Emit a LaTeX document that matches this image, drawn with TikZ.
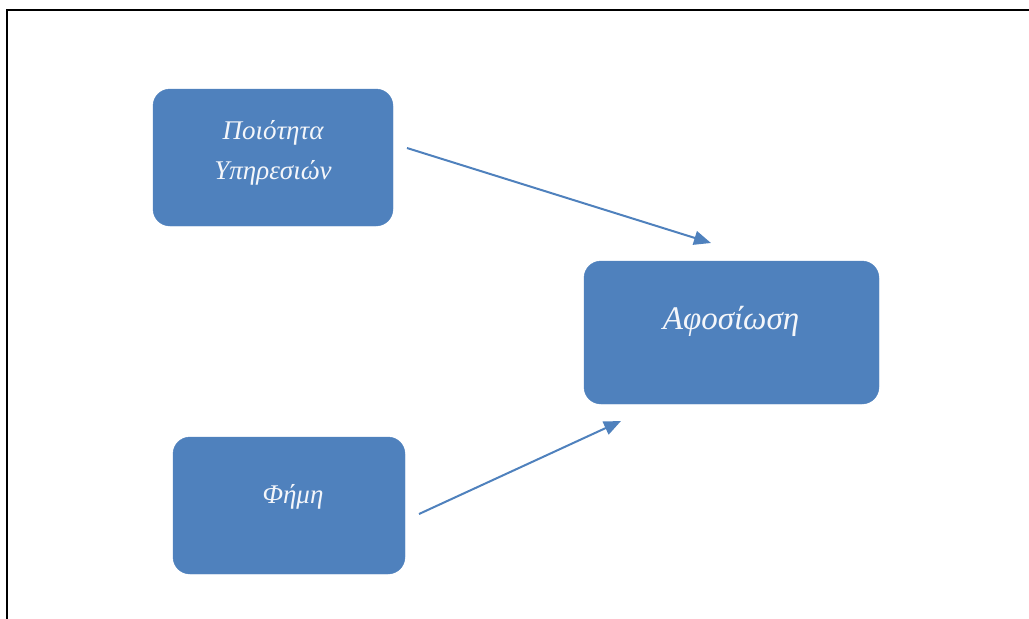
\documentclass[tikz,border=0pt]{standalone}
\usepackage{fontspec}
\setmainfont{Liberation Serif}
\usetikzlibrary{arrows.meta}
\definecolor{boxblue}{HTML}{4F81BD}
\definecolor{txtwhite}{HTML}{F4F6FA}
\tikzset{
  box/.style={draw=boxblue, fill=boxblue, rounded corners=17pt, inner sep=0pt},
  lbl/.style={text=txtwhite, font=\itshape, align=center, inner sep=0pt},
  conn/.style={draw=boxblue, line width=2pt, -{Triangle[length=17pt,width=14pt]}},
}
\begin{document}
\begin{tikzpicture}[x=1pt,y=-1pt]
\useasboundingbox (0,0) rectangle (1029,619);
\draw[line width=2.4pt] (7,619) -- (7,10) -- (1029,10);
\node[box, minimum width=240pt, minimum height=137pt] (b1) at (273,157.5) {};
\node[box, minimum width=295pt, minimum height=143pt] (b2) at (731.5,332.5) {};
\node[box, minimum width=232pt, minimum height=137pt] (b3) at (289,505.5) {};
\node[lbl, font=\itshape\fontsize{27}{40}\selectfont] (t1) at (273,153) {Ποιότητα\\Υπηρεσιών};
\node[lbl, font=\itshape\fontsize{33}{38}\selectfont] (t2) at (731,321) {Αφοσίωση};
\node[lbl, font=\itshape\fontsize{27}{32}\selectfont] (t3) at (293,497) {Φήμη};
\coordinate (s1) at (407,148);
\coordinate (e1) at (711,243);
\coordinate (s2) at (419,514);
\coordinate (e2) at (621,421);
\draw[conn] (s1) -- (e1);
\draw[conn] (s2) -- (e2);
\end{tikzpicture}
\end{document}
